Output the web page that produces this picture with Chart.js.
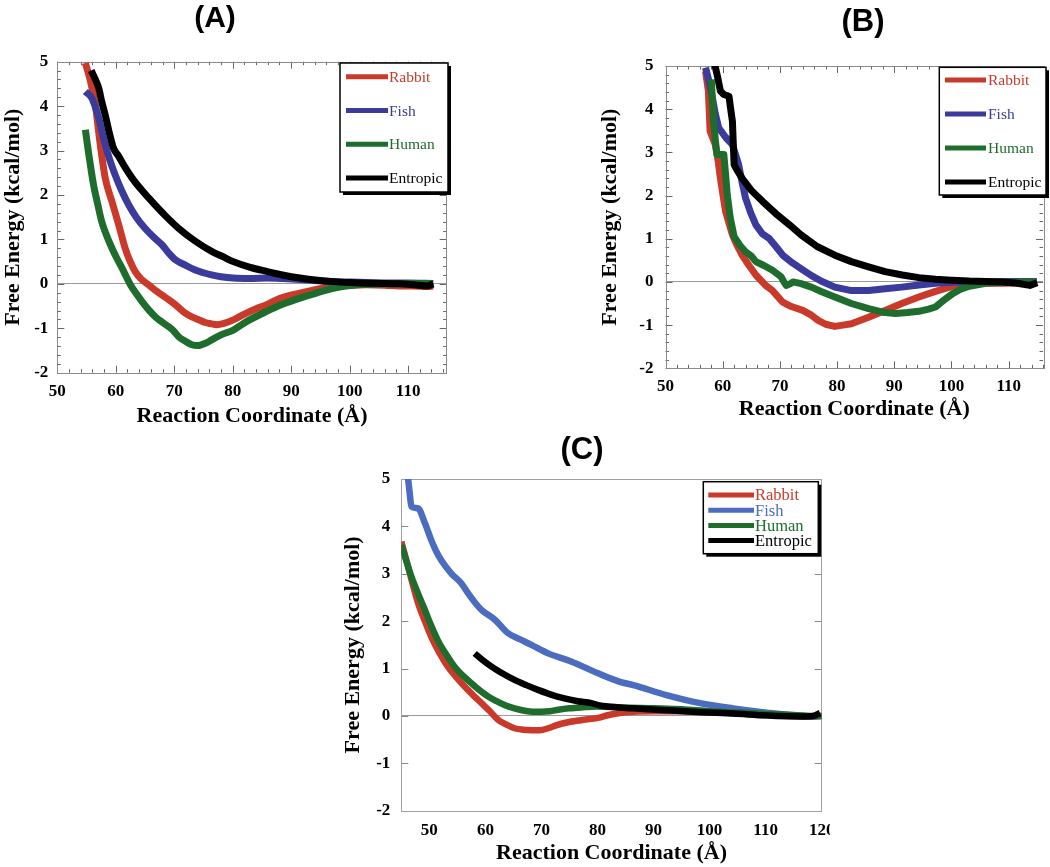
<!DOCTYPE html>
<html>
<head>
<meta charset="utf-8">
<script src="https://cdn.jsdelivr.net/npm/chart.js@4.4.1/dist/chart.umd.min.js"></script>
<style>
  body { margin: 0; background: #fff; }
  #page { position: relative; width: 1050px; height: 867px; overflow: hidden; background: #fff; }
  .panel { position: absolute; overflow: hidden; }
</style>
</head>
<body>
<div id="page">
  <div class="panel" style="left:0;top:0;width:460px;height:432px"><canvas id="chartA" width="460" height="432"></canvas></div>
  <div class="panel" style="left:525px;top:0;width:525px;height:432px"><canvas id="chartB" width="525" height="432"></canvas></div>
  <div class="panel" style="left:330px;top:430px;width:500px;height:437px"><canvas id="chartC" width="515" height="437"></canvas></div>
</div>
<script>
// series labels (same in every panel)
const seriesNames = ["Rabbit", "Fish", "Human", "Entropic"];

// tick values
const xTicksAB = [50, 60, 70, 80, 90, 100, 110];
const xTicksC = [50, 60, 70, 80, 90, 100, 110, 120];
const yTicks = [-2, -1, 0, 1, 2, 3, 4, 5];

// panel (A): [reaction coordinate, free energy]
const aRabbit = [[54.8,4.97],[55.6,4.6],[56.5,4.03],[57.35,3.13],[58.2,2.38],[59.35,1.85],[60.5,1.33],[61.6,0.8],[62.4,0.52],[63.3,0.28],[64.4,0.1],[65.6,-0.02],[66.7,-0.14],[67.9,-0.25],[69.1,-0.36],[70.2,-0.47],[71.9,-0.66],[73.1,-0.75],[74.2,-0.81],[75.3,-0.87],[76.4,-0.9],[77.2,-0.92],[78.5,-0.89],[80.1,-0.81],[82,-0.68],[84,-0.56],[85.8,-0.47],[88,-0.33],[91.5,-0.21],[94.5,-0.12],[97.2,-0.06],[100,-0.03],[102.9,-0.02],[106,-0.03],[108.6,-0.05],[111,-0.05],[113.2,-0.06],[114.3,-0.05]];
const aFish = [[54.8,4.33],[55.9,4.18],[56.5,3.98],[57.1,3.73],[57.6,3.45],[58.2,3.13],[59,2.78],[59.9,2.45],[61,2.1],[62.2,1.78],[63.5,1.5],[65,1.25],[66.4,1.06],[67.9,0.88],[69,0.7],[70.2,0.54],[71.9,0.42],[73.6,0.31],[75,0.25],[76.4,0.2],[78,0.16],[80.1,0.13],[83,0.12],[85.8,0.13],[88.5,0.12],[91.5,0.1],[94.5,0.07],[97.2,0.05],[100,0.04],[102.9,0.03],[106,0.02],[110,0.02],[114.3,0.01]];
const aHuman = [[54.8,3.47],[55.4,2.9],[55.8,2.55],[56.2,2.23],[56.9,1.8],[57.6,1.4],[58.4,1.1],[59.35,0.8],[60.2,0.57],[61.1,0.35],[61.8,0.16],[62.5,-0.02],[63.5,-0.22],[64.5,-0.4],[65.6,-0.58],[66.75,-0.74],[67.9,-0.86],[69,-0.96],[69.9,-1.06],[70.75,-1.19],[71.9,-1.29],[73,-1.37],[74,-1.39],[74.7,-1.37],[75.5,-1.33],[76.4,-1.26],[78,-1.15],[80.1,-1.04],[82.5,-0.84],[85.8,-0.62],[88.5,-0.46],[91.5,-0.32],[94.5,-0.2],[97.2,-0.1],[100,-0.04],[102.9,-0.01],[106,0],[108.6,0.01],[114.3,0.01]];
const aEntropic = [[55.8,4.8],[56.5,4.6],[57.1,4.4],[57.6,4.1],[58.2,3.8],[58.9,3.4],[59.6,3.06],[60.5,2.87],[61.6,2.62],[62.8,2.38],[64.5,2.1],[66.2,1.85],[68.5,1.53],[70.75,1.25],[73.5,0.97],[76.4,0.73],[78.5,0.6],[80.1,0.5],[83,0.37],[85.8,0.28],[88.5,0.2],[91.5,0.13],[94.5,0.08],[97.2,0.05],[100,0.03],[102.9,0.015],[106,0.01],[108.6,0],[111,-0.02],[113.2,-0.05],[114.3,0]];

// panel (B)
const bRabbit = [[57.0,4.88],[57.5,4.42],[57.8,3.49],[58.7,3.18],[59.2,2.8],[59.6,2.4],[60.5,1.63],[61.7,1.09],[62.5,0.85],[63.4,0.62],[64.6,0.38],[65.8,0.16],[67.5,-0.08],[68.7,-0.2],[70.5,-0.47],[72,-0.57],[74,-0.66],[75.5,-0.77],[76.7,-0.89],[78,-0.98],[79.6,-1.03],[81,-1.0],[82.5,-0.97],[85.5,-0.82],[88.4,-0.66],[91.3,-0.5],[94.3,-0.35],[97.2,-0.22],[100.2,-0.1],[103.1,-0.04],[106,-0.03],[109,-0.03],[112,-0.02],[114.9,0]];
const bFish = [[57.0,4.96],[57.5,4.7],[58.1,4.34],[58.7,3.9],[59.3,3.57],[60.5,3.35],[61.7,3.18],[62.8,2.71],[63.4,2.3],[64,1.94],[64.9,1.6],[65.8,1.32],[66.9,1.12],[68.1,1.01],[69.3,0.82],[70.5,0.62],[72.2,0.44],[74,0.28],[75.6,0.14],[77.2,0.02],[79.6,-0.12],[82.5,-0.2],[85.5,-0.2],[88.4,-0.16],[91.3,-0.12],[94.3,-0.07],[97.2,-0.03],[100,-0.01],[103,0],[106,0],[110,0.01],[114.9,0.01]];
const bHuman = [[58.0,4.69],[58.2,4.2],[58.4,3.72],[58.7,3.3],[59.0,2.95],[60.2,2.95],[60.5,2.5],[60.8,2.02],[61.3,1.5],[62.0,1.05],[63,0.85],[64,0.7],[65,0.6],[65.8,0.47],[67.2,0.38],[68.7,0.27],[70.2,0.12],[70.7,0.0],[71.1,-0.08],[71.7,-0.05],[72.3,0],[73.7,-0.04],[75.5,-0.12],[77.2,-0.22],[79.6,-0.35],[82.5,-0.5],[85.5,-0.62],[88,-0.7],[90.2,-0.73],[92.3,-0.71],[94.3,-0.68],[96,-0.63],[97.2,-0.58],[98.7,-0.42],[100.2,-0.27],[101.6,-0.17],[103.1,-0.1],[106,-0.03],[109,-0.01],[114.9,0]];
const bEntropic = [[58.5,5.1],[59.1,4.75],[59.6,4.42],[60.2,4.34],[61.1,4.3],[61.4,4.0],[61.7,3.72],[61.85,3.2],[62.0,2.71],[62.6,2.57],[63.4,2.4],[65,2.12],[67,1.86],[69.3,1.58],[71.7,1.32],[73.7,1.09],[76.5,0.82],[79.6,0.62],[82.5,0.47],[85.5,0.35],[88.4,0.24],[91.4,0.16],[94.3,0.1],[97.2,0.06],[100,0.04],[103.1,0.02],[106,0.01],[109,0],[111.5,-0.03],[113.7,-0.08],[115,-0.02]];

// panel (C)
const cRabbit = [[45.0,3.68],[45.6,3.42],[46.2,3.15],[47.1,2.75],[48.0,2.38],[49.2,2.0],[50.35,1.67],[51.8,1.33],[53.3,1.04],[54.8,0.82],[56.3,0.62],[57.8,0.44],[59.3,0.27],[60.8,0.1],[62.25,-0.08],[63.7,-0.18],[65.2,-0.26],[66.7,-0.29],[68.2,-0.3],[69.7,-0.3],[71.2,-0.26],[72.6,-0.2],[74.1,-0.15],[77,-0.09],[80.1,-0.04],[82,0.02],[84,0.06],[86.4,0.09],[90,0.1],[95,0.1],[100,0.08],[105,0.05],[110,0.03],[115,0.0],[119,-0.01],[120,0]];
const cFish = [[46.2,5.02],[46.5,4.7],[46.8,4.42],[48.0,4.38],[49.2,4.07],[50.35,3.71],[51.2,3.48],[52.1,3.29],[53.9,3.01],[55.7,2.8],[56.9,2.59],[58.1,2.4],[59.3,2.24],[61.7,2.03],[64.0,1.75],[66.1,1.62],[68.2,1.5],[71.2,1.32],[75.3,1.15],[80.1,0.9],[84,0.72],[86.4,0.65],[92.3,0.44],[98.3,0.27],[104.2,0.16],[110.2,0.07],[116.1,0.0],[118.5,-0.01],[120,0]];
const cHuman = [[45.0,3.61],[45.9,3.27],[46.8,2.94],[48.0,2.58],[49.2,2.24],[50.35,1.9],[51.5,1.6],[53,1.3],[54.5,1.04],[56,0.85],[57.5,0.69],[59,0.54],[60.5,0.41],[62,0.31],[63.4,0.23],[65.2,0.16],[67.0,0.11],[68.5,0.09],[70.0,0.09],[71.5,0.1],[73.0,0.13],[75,0.16],[77.1,0.18],[80,0.2],[84,0.18],[90,0.16],[95,0.14],[100,0.1],[105,0.07],[110,0.04],[115,0.02],[119,0],[120,0]];
const cEntropic = [[58.1,1.32],[59.5,1.18],[61.1,1.04],[63,0.9],[65.2,0.76],[67.3,0.65],[69.4,0.55],[71.7,0.45],[74.1,0.37],[76.5,0.31],[78.9,0.27],[80.4,0.22],[84,0.18],[86.4,0.16],[92.3,0.12],[98.3,0.08],[104.2,0.05],[110.2,0.01],[116.1,-0.01],[118.5,0],[119.7,0.06]];

const RED = "#c93a2b";
const BLUE = "#3b3b9b";
const BLUE_C = "#4b6cbf";
const GREEN = "#1e6d2d";
const BLACK = "#000000";

const SERIF = "'Liberation Serif', 'Times New Roman', serif";
const SANS = "'Liberation Sans', Arial, sans-serif";

// inner tick marks + frame box
const frameTicks = {
  id: "frameTicks",
  beforeDatasetsDraw(chart, args, o) {
    const { ctx, chartArea: a } = chart;
    const x = chart.scales.x, y = chart.scales.y;
    ctx.save();
    ctx.lineWidth = 1;
    ctx.strokeStyle = o.tickColor;
    ctx.beginPath();
    const n = Math.round((y.max - y.min) / o.yStep);
    for (let i = 0; i <= n; i++) {
      const v = y.min + i * o.yStep;
      const py = Math.round(y.getPixelForValue(v)) + 0.5;
      const len = Math.abs(v - Math.round(v)) < 1e-6 ? o.major : o.minor;
      ctx.moveTo(a.left, py); ctx.lineTo(a.left + len, py);
      ctx.moveTo(a.right, py); ctx.lineTo(a.right - len, py);
    }
    if (o.xStep) {
      for (let v = o.xStart; v <= x.max; v += o.xStep) {
        const px = Math.round(x.getPixelForValue(v)) + 0.5;
        const len = v % 10 === 0 ? o.major : o.minor;
        ctx.moveTo(px, a.bottom); ctx.lineTo(px, a.bottom - len);
        ctx.moveTo(px, a.top); ctx.lineTo(px, a.top + len);
      }
    }
    ctx.stroke();
    ctx.strokeStyle = o.color;
    ctx.strokeRect(Math.round(a.left) + 0.5, Math.round(a.top) + 0.5, Math.round(a.width), Math.round(a.height));
    ctx.restore();
  }
};

// boxed legend with drop shadow
const boxLegend = {
  id: "boxLegend",
  afterDraw(chart, args, o) {
    const { ctx } = chart;
    ctx.save();
    ctx.fillStyle = "#000";
    ctx.fillRect(o.left + 3, o.top + 3, o.width, o.height);
    ctx.fillStyle = "#fff";
    ctx.fillRect(o.left, o.top, o.width, o.height);
    ctx.lineWidth = 1.5;
    ctx.strokeStyle = "#000";
    ctx.strokeRect(o.left, o.top, o.width, o.height);
    ctx.font = o.font;
    ctx.textBaseline = "middle";
    ctx.textAlign = "left";
    chart.data.datasets.forEach((ds, i) => {
      const yy = o.firstRow + i * o.rowGap;
      ctx.strokeStyle = ds.borderColor;
      ctx.lineWidth = 5;
      ctx.beginPath();
      ctx.moveTo(o.sampleX, yy);
      ctx.lineTo(o.sampleX + o.sampleLen, yy);
      ctx.stroke();
      ctx.fillStyle = ds.borderColor;
      ctx.fillText(ds.label, o.textX, yy + 1);
    });
    ctx.restore();
  }
};

const panelTitle = {
  id: "panelTitle",
  afterDraw(chart, args, o) {
    const { ctx } = chart;
    ctx.save();
    ctx.font = o.font;
    ctx.fillStyle = "#000";
    ctx.textAlign = "center";
    ctx.textBaseline = "middle";
    ctx.fillText(o.text, o.x, o.y);
    ctx.restore();
  }
};

function toPoints(arr) {
  return arr.map(([x, y]) => ({ x, y }));
}

function makeDatasets(series, colors, width, smooth) {
  return series.map((s, i) => ({
    label: seriesNames[i],
    data: toPoints(s),
    borderColor: colors[i],
    backgroundColor: colors[i],
    borderWidth: width,
    pointRadius: 0,
    fill: false,
    order: 3 - i,
    cubicInterpolationMode: smooth ? "monotone" : "default",
    tension: 0,
    borderJoinStyle: "round",
    borderCapStyle: "butt",
  }));
}

function makeChart(id, p) {
  return new Chart(document.getElementById(id), {
    type: "line",
    data: { datasets: makeDatasets(p.series, p.colors, p.lineWidth, p.smooth) },
    plugins: [frameTicks, boxLegend, panelTitle],
    options: {
      responsive: false,
      animation: false,
      events: [],
      layout: { padding: p.padding },
      scales: {
        x: {
          type: "linear",
          min: p.xMin,
          max: p.xMax,
          afterBuildTicks: (s) => { s.ticks = p.xTicks.map((v) => ({ value: v })); },
          afterFit: (s) => { s.height = p.xHeight; },
          grid: { display: false, drawTicks: false },
          border: { display: false },
          ticks: {
            color: "#000",
            padding: p.xTickPad,
            maxRotation: 0,
            autoSkip: false,
            font: { family: SERIF, size: 17, weight: "bold" },
          },
          title: {
            display: true,
            text: "Reaction Coordinate (Å)",
            color: "#000",
            font: { family: SERIF, size: 22, weight: "bold" },
            padding: { top: 0, bottom: p.xTitlePad },
          },
        },
        y: {
          type: "linear",
          min: -2,
          max: 5,
          afterBuildTicks: (s) => { s.ticks = yTicks.map((v) => ({ value: v })); },
          afterFit: (s) => { s.width = p.yWidth; },
          grid: {
            drawTicks: false,
            lineWidth: 1,
            color: (c) => (c.tick && c.tick.value === 0 ? "#9a9a9a" : "rgba(0,0,0,0)"),
          },
          border: { display: false },
          ticks: {
            color: "#000",
            padding: p.yTickPad,
            font: { family: SERIF, size: 17, weight: "bold" },
          },
          title: {
            display: true,
            text: "Free Energy (kcal/mol)",
            color: "#000",
            font: { family: SERIF, size: 22, weight: "bold" },
            padding: { top: 0, bottom: 0 },
          },
        },
      },
      plugins: {
        legend: { display: false },
        tooltip: { enabled: false },
        title: { display: false },
        frameTicks: p.frame,
        boxLegend: p.legend,
        panelTitle: p.title,
      },
    },
  });
}

makeChart("chartA", {
  series: [aRabbit, aFish, aHuman, aEntropic],
  colors: [RED, BLUE, GREEN, BLACK],
  lineWidth: 7,
  smooth: true,
  padding: { left: 0, right: 13.3, top: 61.7, bottom: 0 },
  xMin: 50, xMax: 116.6, xTicks: xTicksAB,
  xHeight: 59.3, yWidth: 57.3,
  xTickPad: 9, yTickPad: 9, xTitlePad: 2.8,
  frame: { color: "#8a8a8a", tickColor: "#666", major: 7, minor: 3.5, yStep: 0.2, xStep: 2, xStart: 50 },
  legend: { left: 340, top: 63, width: 108, height: 129, firstRow: 76.7, rowGap: 33.8, sampleX: 346, sampleLen: 42, textX: 389, font: "15.5px " + SERIF },
  title: { text: "(A)", x: 215, y: 18.5, font: "bold 30px " + SANS },
});

makeChart("chartB", {
  series: [bRabbit, bFish, bHuman, bEntropic],
  colors: [RED, BLUE, GREEN, BLACK],
  lineWidth: 7,
  smooth: false,
  padding: { left: 71.8, right: 7, top: 66, bottom: 0 },
  xMin: 50, xMax: 116, xTicks: xTicksAB,
  xHeight: 63.7, yWidth: 68.7,
  xTickPad: 8.5, yTickPad: 12, xTitlePad: 9.8,
  frame: { color: "#8a8a8a", tickColor: "#666", major: 7, minor: 3.5, yStep: 0.2, xStep: 2, xStart: 50 },
  legend: { left: 414.3, top: 67.3, width: 106.7, height: 127.7, firstRow: 80, rowGap: 34, sampleX: 420, sampleLen: 41, textX: 463, font: "15.5px " + SERIF },
  title: { text: "(B)", x: 338, y: 22.5, font: "bold 31px " + SANS },
});

makeChart("chartC", {
  series: [cRabbit, cFish, cHuman, cEntropic],
  colors: [RED, BLUE_C, GREEN, BLACK],
  lineWidth: 6.5,
  smooth: true,
  padding: { left: 10.1, right: 23.3, top: 49, bottom: 0 },
  xMin: 45, xMax: 120, xTicks: xTicksC,
  xHeight: 56.3, yWidth: 61.2,
  xTickPad: 10, yTickPad: 11, xTitlePad: 0,
  frame: { color: "#a0a0a0", tickColor: "#888", major: 7, minor: 7, yStep: 1, xStep: 0 },
  legend: { left: 373.3, top: 51.7, width: 115, height: 72, firstRow: 65, rowGap: 15.2, sampleX: 378.3, sampleLen: 45.7, textX: 425, font: "16.5px " + SERIF },
  title: { text: "(C)", x: 252, y: 20, font: "bold 31px " + SANS },
});
</script>
</body>
</html>
